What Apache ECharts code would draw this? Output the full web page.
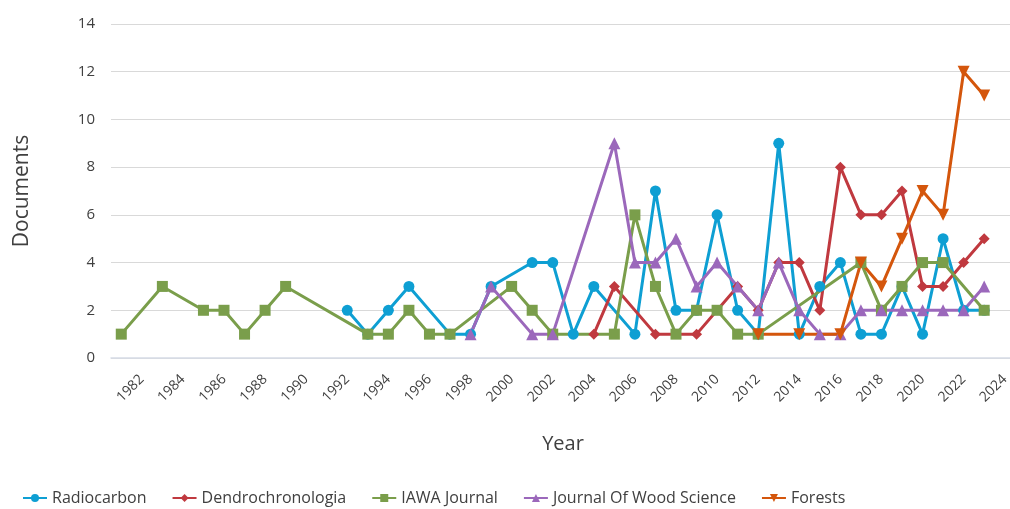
<!DOCTYPE html>
<html lang="en" style="height: 100%">
<head>
  <meta charset="utf-8">
</head>
<body style="height: 100%; margin: 0; background: #fff">
  <div id="container" style="width: 1010px; height: 509px"></div>

  <script type="text/javascript" src="https://fastly.jsdelivr.net/npm/echarts@6/dist/echarts.min.js"></script>
  <script type="text/javascript">
    // years 1981..2024 on a category axis
    var years = [];
    for (var y = 1981; y <= 2024; y++) years.push(String(y));

    // null = no point that year (line is joined across)
    var radiocarbon = [null,null,null,null,null,null,null,null,null,null,null,2,1,2,3,null,1,1,3,null,4,4,1,3,null,1,7,2,2,6,2,1,9,1,3,4,1,1,3,1,5,2,2,null];
    var dendro      = [null,null,null,null,null,null,null,null,null,null,null,null,null,null,null,null,null,null,null,null,null,null,null,1,3,null,1,null,1,null,3,2,4,4,2,8,6,6,7,3,3,4,5,null];
    var iawa        = [1,null,3,null,2,2,1,2,3,null,null,null,1,1,2,1,1,null,null,3,2,1,null,null,1,6,3,1,2,2,1,1,null,null,null,null,4,2,3,4,4,null,2,null];
    var jws         = [null,null,null,null,null,null,null,null,null,null,null,null,null,null,null,null,null,1,3,null,1,1,null,null,9,4,4,5,3,4,3,2,4,2,1,1,2,2,2,2,2,2,3,null];
    var forests     = [null,null,null,null,null,null,null,null,null,null,null,null,null,null,null,null,null,null,null,null,null,null,null,null,null,null,null,null,null,null,null,1,null,1,null,1,4,3,5,7,6,12,11,null];

    var seriesNames = ['Radiocarbon', 'Dendrochronologia', 'IAWA Journal', 'Journal Of Wood Science', 'Forests'];
    var seriesData = [radiocarbon, dendro, iawa, jws, forests];
    var colors = ['#0e9fd3', '#c0393f', '#7a9e4b', '#9b68bb', '#d4560c'];
    var symbols = ['circle', 'diamond', 'rect', 'triangle', 'path://M0,0 L10,0 L5,9 Z'];
    var symbolSizes = [11, 11, 11, 12, 12];

    var textColor = '#404040';
    var font = 'Open Sans';

    var chart = echarts.init(document.getElementById('container'), null, { renderer: 'canvas' });

    var option = {
      animation: false,
      color: colors,
      textStyle: { fontFamily: font },
      grid: { left: 111, width: 904, top: 24, bottom: 151, containLabel: false, outerBoundsMode: 'none' },
      legend: {
        left: 17,
        top: 485,
        itemWidth: 24,
        itemHeight: 10,
        itemGap: 25,
        textStyle: { color: textColor, fontSize: 16, fontFamily: font },
        data: seriesNames
      },
      xAxis: {
        type: 'category',
        data: years,
        boundaryGap: true,
        name: 'Year',
        nameLocation: 'middle',
        nameGap: 76,
        nameTextStyle: { color: textColor, fontSize: 20, fontFamily: font },
        axisLine: { lineStyle: { color: '#d6dce6', width: 1.5 } },
        axisTick: { show: false },
        axisLabel: {
          rotate: 45,
          color: textColor,
          fontSize: 14,
          margin: 19,
          interval: function (idx, val) { return Number(val) % 2 === 0; }
        },
        splitLine: { show: false }
      },
      yAxis: {
        type: 'value',
        min: 0,
        max: 14,
        interval: 2,
        name: 'Documents',
        nameLocation: 'middle',
        nameGap: 78,
        nameTextStyle: { color: textColor, fontSize: 21, fontFamily: font },
        axisLine: { show: false },
        axisTick: { show: false },
        axisLabel: { color: textColor, fontSize: 15, margin: 16 },
        splitLine: { lineStyle: { color: '#d9d9d9', width: 1.2 } }
      },
      series: seriesNames.map(function (name, i) {
        return {
          name: name,
          type: 'line',
          data: seriesData[i],
          connectNulls: true,
          symbol: symbols[i],
          symbolSize: symbolSizes[i],
          lineStyle: { width: 3, color: colors[i] },
          itemStyle: { color: colors[i] }
        };
      })
    };

    chart.setOption(option);
    window.addEventListener('resize', chart.resize);
  </script>
</body>
</html>
